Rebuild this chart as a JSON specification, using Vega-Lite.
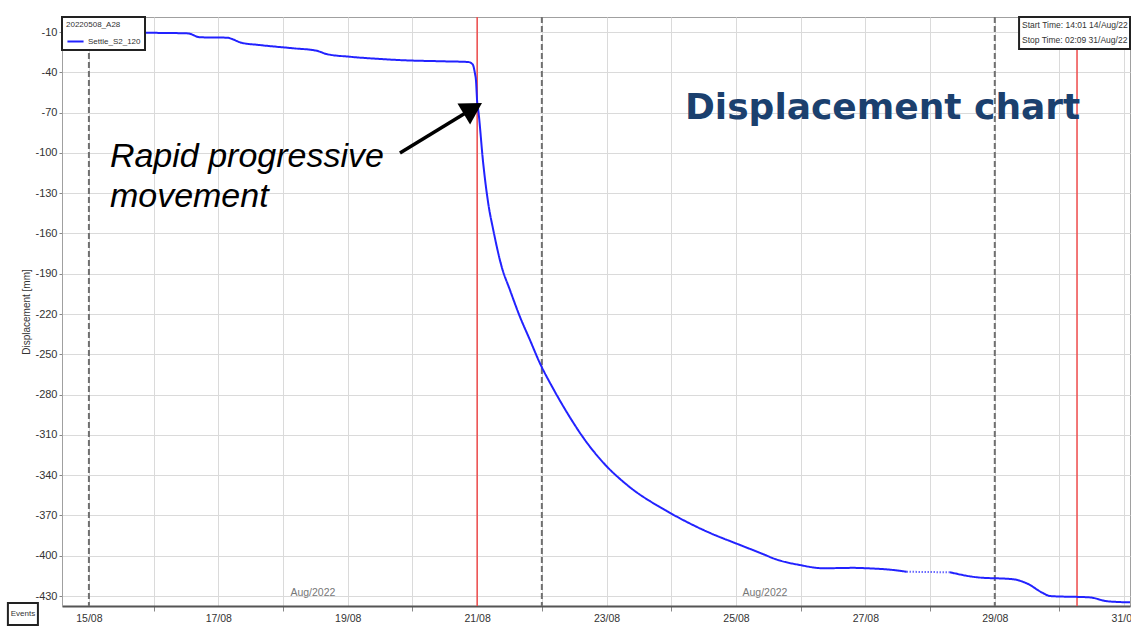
{
  "$schema": "https://vega.github.io/schema/vega-lite/v6.json",
  "width": 1068,
  "height": 589,
  "autosize": {"type": "none"},
  "padding": {"left": 62, "top": 17, "right": 1, "bottom": 22},
  "background": "white",
  "config": {
    "font": "Liberation Sans",
    "view": {"stroke": "#a0a0a0", "strokeWidth": 1},
    "axis": {
      "labelFont": "Liberation Sans",
      "labelColor": "#333333",
      "labelFontSize": 11,
      "gridColor": "#dadada",
      "gridWidth": 1,
      "tickColor": "#888888",
      "domainColor": "#a0a0a0",
      "titleFont": "Liberation Sans",
      "titleFontWeight": "normal",
      "titleColor": "#333333",
      "titleFontSize": 10
    }
  },
  "datasets": {
    "curve": [
      {"t": "2022-08-14T14:01", "v": -9.8, "seg": "a", "series": "Settle_S2_120"},
      {"t": "2022-08-15T20:08", "v": -10.5, "seg": "a", "series": "Settle_S2_120"},
      {"t": "2022-08-16T12:43", "v": -11.0, "seg": "a", "series": "Settle_S2_120"},
      {"t": "2022-08-16T17:10", "v": -13.9, "seg": "a", "series": "Settle_S2_120"},
      {"t": "2022-08-17T03:04", "v": -14.2, "seg": "a", "series": "Settle_S2_120"},
      {"t": "2022-08-17T08:38", "v": -18.0, "seg": "a", "series": "Settle_S2_120"},
      {"t": "2022-08-17T15:26", "v": -19.7, "seg": "a", "series": "Settle_S2_120"},
      {"t": "2022-08-18T03:47", "v": -22.1, "seg": "a", "series": "Settle_S2_120"},
      {"t": "2022-08-18T12:27", "v": -23.9, "seg": "a", "series": "Settle_S2_120"},
      {"t": "2022-08-18T16:10", "v": -26.4, "seg": "a", "series": "Settle_S2_120"},
      {"t": "2022-08-19T00:49", "v": -28.4, "seg": "a", "series": "Settle_S2_120"},
      {"t": "2022-08-19T10:43", "v": -29.9, "seg": "a", "series": "Settle_S2_120"},
      {"t": "2022-08-19T20:35", "v": -31.0, "seg": "a", "series": "Settle_S2_120"},
      {"t": "2022-08-20T11:25", "v": -31.8, "seg": "a", "series": "Settle_S2_120"},
      {"t": "2022-08-20T20:41", "v": -32.3, "seg": "a", "series": "Settle_S2_120"},
      {"t": "2022-08-20T22:19", "v": -34.0, "seg": "a", "series": "Settle_S2_120"},
      {"t": "2022-08-20T23:11", "v": -40.8, "seg": "a", "series": "Settle_S2_120"},
      {"t": "2022-08-20T23:33", "v": -45.7, "seg": "a", "series": "Settle_S2_120"},
      {"t": "2022-08-21T00:03", "v": -63.1, "seg": "a", "series": "Settle_S2_120"},
      {"t": "2022-08-21T00:24", "v": -68.1, "seg": "a", "series": "Settle_S2_120"},
      {"t": "2022-08-21T02:15", "v": -107.8, "seg": "a", "series": "Settle_S2_120"},
      {"t": "2022-08-21T04:07", "v": -137.6, "seg": "a", "series": "Settle_S2_120"},
      {"t": "2022-08-21T05:59", "v": -157.4, "seg": "a", "series": "Settle_S2_120"},
      {"t": "2022-08-21T09:06", "v": -184.8, "seg": "a", "series": "Settle_S2_120"},
      {"t": "2022-08-21T12:10", "v": -202.1, "seg": "a", "series": "Settle_S2_120"},
      {"t": "2022-08-21T15:52", "v": -222.0, "seg": "a", "series": "Settle_S2_120"},
      {"t": "2022-08-21T19:35", "v": -239.3, "seg": "a", "series": "Settle_S2_120"},
      {"t": "2022-08-21T23:18", "v": -256.7, "seg": "a", "series": "Settle_S2_120"},
      {"t": "2022-08-22T04:13", "v": -275.6, "seg": "a", "series": "Settle_S2_120"},
      {"t": "2022-08-22T06:43", "v": -284.5, "seg": "a", "series": "Settle_S2_120"},
      {"t": "2022-08-22T11:04", "v": -299.0, "seg": "a", "series": "Settle_S2_120"},
      {"t": "2022-08-22T14:08", "v": -308.5, "seg": "a", "series": "Settle_S2_120"},
      {"t": "2022-08-22T23:24", "v": -332.0, "seg": "a", "series": "Settle_S2_120"},
      {"t": "2022-08-23T07:27", "v": -347.0, "seg": "a", "series": "Settle_S2_120"},
      {"t": "2022-08-23T23:31", "v": -368.0, "seg": "a", "series": "Settle_S2_120"},
      {"t": "2022-08-24T14:21", "v": -383.0, "seg": "a", "series": "Settle_S2_120"},
      {"t": "2022-08-25T00:16", "v": -391.0, "seg": "a", "series": "Settle_S2_120"},
      {"t": "2022-08-25T08:54", "v": -397.8, "seg": "a", "series": "Settle_S2_120"},
      {"t": "2022-08-25T15:06", "v": -402.8, "seg": "a", "series": "Settle_S2_120"},
      {"t": "2022-08-25T23:44", "v": -406.9, "seg": "a", "series": "Settle_S2_120"},
      {"t": "2022-08-26T08:23", "v": -409.3, "seg": "a", "series": "Settle_S2_120"},
      {"t": "2022-08-26T19:30", "v": -409.0, "seg": "a", "series": "Settle_S2_120"},
      {"t": "2022-08-27T00:29", "v": -409.3, "seg": "a", "series": "Settle_S2_120"},
      {"t": "2022-08-27T10:21", "v": -410.6, "seg": "a", "series": "Settle_S2_120"},
      {"t": "2022-08-27T15:19", "v": -411.9, "seg": "a", "series": "Settle_S2_120"},
      {"t": "2022-08-27T15:19", "v": -411.9, "seg": "b", "series": "Settle_S2_120"},
      {"t": "2022-08-28T07:23", "v": -412.3, "seg": "b", "series": "Settle_S2_120"},
      {"t": "2022-08-28T07:23", "v": -412.3, "seg": "c", "series": "Settle_S2_120"},
      {"t": "2022-08-28T17:17", "v": -416.0, "seg": "c", "series": "Settle_S2_120"},
      {"t": "2022-08-29T06:52", "v": -417.5, "seg": "c", "series": "Settle_S2_120"},
      {"t": "2022-08-29T11:50", "v": -420.5, "seg": "c", "series": "Settle_S2_120"},
      {"t": "2022-08-29T18:00", "v": -427.9, "seg": "c", "series": "Settle_S2_120"},
      {"t": "2022-08-29T20:29", "v": -430.0, "seg": "c", "series": "Settle_S2_120"},
      {"t": "2022-08-30T11:18", "v": -431.0, "seg": "c", "series": "Settle_S2_120"},
      {"t": "2022-08-30T17:31", "v": -433.8, "seg": "c", "series": "Settle_S2_120"},
      {"t": "2022-08-31T02:09", "v": -434.7, "seg": "c", "series": "Settle_S2_120"}
    ],
    "events": [
      {"t": "2022-08-15T00:00"},
      {"t": "2022-08-22T00:00"},
      {"t": "2022-08-29T00:00"}
    ],
    "markers": [
      {"t": "2022-08-21T00:00"},
      {"t": "2022-08-30T06:30"}
    ]
  },
  "layer": [
    {
      "data": {"name": "events"},
      "mark": {"type": "rule", "color": "#707070", "strokeWidth": 2, "strokeDash": [6, 3]},
      "encoding": {"x": {"field": "t", "type": "temporal"}}
    },
    {
      "data": {"name": "markers"},
      "mark": {"type": "rule", "color": "#ee4a4a", "strokeWidth": 1.5},
      "encoding": {"x": {"field": "t", "type": "temporal"}}
    },
    {
      "data": {"name": "curve"},
      "mark": {"type": "line", "strokeWidth": 2, "interpolate": "monotone"},
      "encoding": {
        "x": {
          "field": "t",
          "type": "temporal",
          "scale": {"domain": [
            {"year": 2022, "month": 8, "date": 14, "hours": 14, "minutes": 1},
            {"year": 2022, "month": 8, "date": 31, "hours": 2, "minutes": 9}
          ]},
          "axis": {
            "title": null,
            "values": [
              {"year": 2022, "month": 8, "date": 15},
              {"year": 2022, "month": 8, "date": 16},
              {"year": 2022, "month": 8, "date": 17},
              {"year": 2022, "month": 8, "date": 18},
              {"year": 2022, "month": 8, "date": 19},
              {"year": 2022, "month": 8, "date": 20},
              {"year": 2022, "month": 8, "date": 21},
              {"year": 2022, "month": 8, "date": 22},
              {"year": 2022, "month": 8, "date": 23},
              {"year": 2022, "month": 8, "date": 24},
              {"year": 2022, "month": 8, "date": 25},
              {"year": 2022, "month": 8, "date": 26},
              {"year": 2022, "month": 8, "date": 27},
              {"year": 2022, "month": 8, "date": 28},
              {"year": 2022, "month": 8, "date": 29},
              {"year": 2022, "month": 8, "date": 30},
              {"year": 2022, "month": 8, "date": 31}
            ],
            "labelExpr": "date(datum.value) % 2 == 1 ? timeFormat(datum.value, '%d/%m') : ''",
            "tickOpacity": {"condition": {"test": "date(datum.value) % 2 == 0", "value": 1}, "value": 0},
            "tickSize": 5,
            "labelPadding": 2,
            "labelFontSize": 10.5,
            "labelFlush": false,
            "labelOverlap": false,
            "domainColor": "#555555",
            "domainWidth": 2
          }
        },
        "y": {
          "field": "v",
          "type": "quantitative",
          "scale": {"domain": [-437.4, 1.2], "nice": false, "zero": false},
          "axis": {
            "title": "Displacement [mm]",
            "values": [-10, -40, -70, -100, -130, -160, -190, -220, -250, -280, -310, -340, -370, -400, -430],
            "labelExpr": "'' + datum.value",
            "tickSize": 3,
            "labelPadding": 2,
            "titlePadding": 3
          }
        },
        "color": {
          "field": "series",
          "type": "nominal",
          "scale": {"range": ["#2222ff"]},
          "legend": {
            "title": "20220508_A28",
            "orient": "top-left",
            "offset": 0,
            "padding": 4,
            "strokeColor": "#222222",
            "fillColor": "white",
            "titleFont": "Liberation Sans Narrow, Liberation Sans",
            "titleFontSize": 8,
            "titleFontWeight": "normal",
            "titleColor": "#333333",
            "titlePadding": 3,
            "labelFont": "Liberation Sans Narrow, Liberation Sans",
            "labelFontSize": 8,
            "labelColor": "#333333",
            "symbolType": "stroke",
            "symbolStrokeWidth": 2,
            "symbolSize": 260,
            "labelOffset": 3,
            "encode": {"legend": {"update": {"strokeWidth": {"value": 2}}}}
          }
        },
        "strokeDash": {
          "field": "seg",
          "type": "nominal",
          "scale": {"domain": ["a", "b", "c"], "range": [[1, 0], [1, 2], [1, 0]]},
          "legend": null
        }
      }
    },
    {
      "data": {"values": [{"t": "2022-08-29T09:00", "t2": "2022-08-31T02:09", "v": 1.2, "v2": -22.7}]},
      "mark": {"type": "rect", "fill": "white", "stroke": "#222222", "strokeWidth": 2},
      "encoding": {
        "x": {"field": "t", "type": "temporal"},
        "x2": {"field": "t2"},
        "y": {"field": "v", "type": "quantitative"},
        "y2": {"field": "v2"}
      }
    },
    {
      "data": {"values": [
        {"t": "2022-08-29T10:05", "v": -4.8, "label": "Start Time: 14:01 14/Aug/22"},
        {"t": "2022-08-29T10:05", "v": -16.0, "label": "Stop Time: 02:09 31/Aug/22"}
      ]},
      "mark": {"type": "text", "align": "left", "baseline": "middle", "font": "Liberation Sans Narrow, Liberation Sans", "fontSize": 8.5, "color": "#333333"},
      "encoding": {
        "x": {"field": "t", "type": "temporal"},
        "y": {"field": "v", "type": "quantitative"},
        "text": {"field": "label"}
      }
    },
    {
      "data": {"values": [
        {"t": "2022-08-18T11:05", "v": -427.7, "label": "Aug/2022"},
        {"t": "2022-08-25T10:45", "v": -427.7, "label": "Aug/2022"}
      ]},
      "mark": {"type": "text", "align": "center", "baseline": "middle", "fontSize": 10.5, "color": "#777777"},
      "encoding": {
        "x": {"field": "t", "type": "temporal"},
        "y": {"field": "v", "type": "quantitative"},
        "text": {"field": "label"}
      }
    },
    {
      "data": {"values": [{"t": "2022-08-24T05:05", "v": -74.8, "label": "Displacement chart"}]},
      "mark": {"type": "text", "align": "left", "baseline": "alphabetic", "font": "DejaVu Sans", "fontWeight": "bold", "fontSize": 36, "color": "#1b406e"},
      "encoding": {
        "x": {"field": "t", "type": "temporal"},
        "y": {"field": "v", "type": "quantitative"},
        "text": {"field": "label"}
      }
    },
    {
      "data": {"values": [{"t": "2022-08-15T07:47", "v": -110.5, "label": "Rapid progressive\nmovement"}]},
      "mark": {"type": "text", "align": "left", "baseline": "alphabetic", "lineBreak": "\n", "lineHeight": 40, "font": "Liberation Sans", "fontStyle": "italic", "fontSize": 34, "color": "#000000"},
      "encoding": {
        "x": {"field": "t", "type": "temporal"},
        "y": {"field": "v", "type": "quantitative"},
        "text": {"field": "label"}
      }
    },
    {
      "data": {"values": [{"t": "2022-08-19T19:22", "v": -100.1, "t2": "2022-08-20T22:25", "v2": -67.0}]},
      "mark": {"type": "rule", "color": "#000000", "strokeWidth": 3.5},
      "encoding": {
        "x": {"field": "t", "type": "temporal"},
        "x2": {"field": "t2"},
        "y": {"field": "v", "type": "quantitative"},
        "y2": {"field": "v2"}
      }
    },
    {
      "data": {"values": [{"t": "2022-08-20T22:25", "v": -67.0}]},
      "mark": {"type": "point", "shape": "triangle-up", "angle": 59, "size": 600, "filled": true, "color": "#000000", "opacity": 1},
      "encoding": {
        "x": {"field": "t", "type": "temporal"},
        "y": {"field": "v", "type": "quantitative"}
      }
    },
    {
      "data": {"values": [{"t": "2022-08-13T17:57", "t2": "2022-08-14T05:05", "v": -435.2, "v2": -451.5}]},
      "mark": {"type": "rect", "fill": "white", "stroke": "#222222", "strokeWidth": 2},
      "encoding": {
        "x": {"field": "t", "type": "temporal"},
        "x2": {"field": "t2"},
        "y": {"field": "v", "type": "quantitative"},
        "y2": {"field": "v2"}
      }
    },
    {
      "data": {"values": [{"t": "2022-08-13T23:31", "v": -443.4, "label": "Events"}]},
      "mark": {"type": "text", "align": "center", "baseline": "middle", "font": "Liberation Sans Narrow, Liberation Sans", "fontSize": 8, "color": "#333333"},
      "encoding": {
        "x": {"field": "t", "type": "temporal"},
        "y": {"field": "v", "type": "quantitative"},
        "text": {"field": "label"}
      }
    }
  ]
}
